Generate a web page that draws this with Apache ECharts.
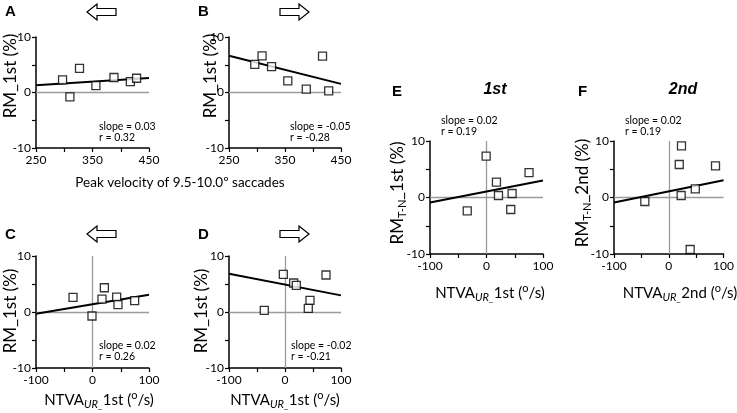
<!DOCTYPE html>
<html>
<head>
<meta charset="utf-8">
<script src="https://cdn.jsdelivr.net/npm/echarts@6/dist/echarts.min.js"></script>
<style>
  html, body { margin: 0; padding: 0; background: #fff; }
  #chart { width: 737px; height: 413px; }
</style>
</head>
<body>
<div id="chart"></div>
<script>
// panel A/B: peak velocity vs RM_1st
const aX = [297, 310, 327, 356, 388, 417, 428];
const aY = [2.27, -0.78, 4.36, 1.25, 2.7, 1.97, 2.57];
const aFit = [[250, 1.31], [450, 2.63]];

const bX = [296, 309, 326, 355, 388, 417, 428];
const bY = [5.07, 6.6, 4.66, 2.09, 0.6, 6.57, 0.3];
const bFit = [[250, 6.63], [450, 1.55]];

// panel C/D: NTVA 1st vs RM_1st
const cX = [-34.5, -0.9, 16.8, 21, 42.8, 45.1, 74.6];
const cY = [2.61, -0.71, 2.3, 4.33, 2.67, 1.31, 2.02];
const cFit = [[-100, -0.3], [100, 3.09]];

const dX = [-37, -3, 15.5, 20.2, 44.6, 41.6, 73.2];
const dY = [0.3, 6.73, 5.18, 4.77, 2.09, 0.66, 6.61];
const dFit = [[-100, 6.82], [100, 2.97]];

// panel E/F: NTVA vs RM T-N
const eX = [-34.1, -0.6, 17.6, 21.2, 45.3, 42.9, 75.3];
const eY = [-2.36, 7.32, 2.71, 0.35, 0.71, -2.12, 4.42];
const eFit = [[-100, -0.88], [100, 3.0]];

const fX = [-43.7, 23.2, 19.1, 22.6, 48.4, 85.3, 39.0];
const fY = [-0.71, 9.14, 5.84, 0.35, 1.53, 5.6, -9.2];
const fFit = [[-100, -0.88], [100, 3.07]];

const velTicks = [250, 350, 450];
const ntvaTicks = [-100, 0, 100];
const rmTicks = [-10, 0, 10];

const stats = [
  ['slope = 0.03', 'r = 0.32'],
  ['slope = -0.05', 'r = -0.28'],
  ['slope = 0.02', 'r = 0.26'],
  ['slope = -0.02', 'r = -0.21'],
  ['slope = 0.02', 'r = 0.19'],
  ['slope = 0.02', 'r = 0.19'],
];

const FONT = 'Lato, "Open Sans", sans-serif';

// stat: [left, centre of first line]
const panels = [
  { xs: aX, ys: aY, fit: aFit, min: 250, max: 450, ticks: velTicks, vline: false,
    grid: { left: 36, top: 37, width: 113, height: 111 }, stat: [99, 127] },
  { xs: bX, ys: bY, fit: bFit, min: 250, max: 450, ticks: velTicks, vline: false,
    grid: { left: 229, top: 37, width: 112, height: 111 }, stat: [290, 127] },
  { xs: cX, ys: cY, fit: cFit, min: -100, max: 100, ticks: ntvaTicks, vline: true,
    grid: { left: 36, top: 256, width: 113, height: 112 }, stat: [99, 346] },
  { xs: dX, ys: dY, fit: dFit, min: -100, max: 100, ticks: ntvaTicks, vline: true,
    grid: { left: 229, top: 256, width: 112, height: 112 }, stat: [291, 346] },
  { xs: eX, ys: eY, fit: eFit, min: -100, max: 100, ticks: ntvaTicks, vline: true,
    grid: { left: 430, top: 141, width: 113, height: 113 }, stat: [441, 121] },
  { xs: fX, ys: fY, fit: fFit, min: -100, max: 100, ticks: ntvaTicks, vline: true,
    grid: { left: 614, top: 141, width: 114, height: 113 }, stat: [625, 121] },
];

const axisLine = { show: true, onZero: false, lineStyle: { color: '#000', width: 1.5 } };
const axisTick = { show: true, inside: false, length: 4, lineStyle: { color: '#000', width: 1.2 } };

const grids = [], xAxes = [], yAxes = [], series = [], graphics = [];

panels.forEach((p, i) => {
  grids.push(p.grid);
  xAxes.push({
    type: 'value', gridIndex: i, min: p.min, max: p.max, interval: 50,
    axisLine, axisTick, splitLine: { show: false },
    axisLabel: {
      margin: 6, color: '#000', fontSize: 12, fontFamily: FONT,
      formatter: v => (p.ticks.includes(v) ? String(v) : '')
    }
  });
  yAxes.push({
    type: 'value', gridIndex: i, min: -10, max: 10, interval: 5,
    axisLine, axisTick, splitLine: { show: false },
    axisLabel: {
      margin: 5, color: '#000', fontSize: 12, fontFamily: FONT,
      formatter: v => (rmTicks.includes(v) ? String(v) : '')
    }
  });

  const zeroLines = [{ yAxis: 0 }];
  if (p.vline) zeroLines.push({ xAxis: 0 });

  series.push({
    type: 'line', xAxisIndex: i, yAxisIndex: i,
    data: p.fit, showSymbol: false, symbol: 'none', silent: true, z: 3,
    lineStyle: { color: '#000', width: 2 },
    markLine: {
      silent: true, symbol: 'none', label: { show: false }, z: 1,
      lineStyle: { color: '#9a9a9a', width: 1.3, type: 'solid' },
      data: zeroLines
    }
  });
  series.push({
    type: 'scatter', xAxisIndex: i, yAxisIndex: i, z: 4,
    data: p.xs.map((x, k) => [x, p.ys[k]]),
    symbol: 'rect', symbolSize: 8,
    itemStyle: { color: '#fff', borderColor: '#000', borderWidth: 1.3 }
  });

  graphics.push({
    type: 'text', x: p.stat[0], y: p.stat[1] - 5.5,
    style: { text: stats[i][0] + '\n' + stats[i][1], font: '10.5px ' + FONT, fill: '#000',
      lineHeight: 11, verticalAlign: 'top' }
  });
});

// panel letters and column titles
const letters = [['A', 5, 12], ['B', 198, 12], ['C', 5, 235], ['D', 198, 235], ['E', 392, 92], ['F', 578, 92]];
letters.forEach(([t, x, y]) => graphics.push({
  type: 'text', x, y,
  style: { text: t, font: 'bold 15px "Liberation Sans", Arial, sans-serif', fill: '#000', verticalAlign: 'middle' }
}));
[['1st', 495, 90], ['2nd', 683, 90]].forEach(([t, x, y]) => graphics.push({
  type: 'text', x, y,
  style: { text: t, font: 'italic bold 16px "Liberation Sans", Arial, sans-serif', fill: '#000',
    align: 'center', verticalAlign: 'middle' }
}));

// direction arrows
function arrow(cx, cy, dir) {
  // half length 14.5, head 10 long, head half-height 8, shaft half-height 3.5
  const pts = [[-14.5, 0], [-4.5, -8], [-4.5, -3.5], [14.5, -3.5], [14.5, 3.5], [-4.5, 3.5], [-4.5, 8]]
    .map(([x, y]) => [cx + dir * x, cy + y]);
  return { type: 'polygon', shape: { points: pts },
    style: { fill: '#fff', stroke: '#000', lineWidth: 1.2 } };
}
graphics.push(arrow(101.5, 12, 1), arrow(294.5, 12, -1), arrow(101.5, 234, 1), arrow(294.5, 234, -1));

// axis titles
const richText = {
  s: { fontSize: 11, fontStyle: 'italic', fontFamily: FONT, lineHeight: 10, verticalAlign: 'bottom' },
  t: { fontSize: 11, fontFamily: FONT, lineHeight: 10, verticalAlign: 'bottom' },
  p: { fontSize: 11, fontFamily: FONT, lineHeight: 10, verticalAlign: 'top' }
};
function title(text, x, y, rotate, size) {
  return {
    type: 'text', x, y, rotation: rotate ? Math.PI / 2 : 0,
    style: { text, font: size + 'px ' + FONT, fill: '#000', align: 'center', verticalAlign: 'middle',
      lineHeight: 20, rich: richText }
  };
}
graphics.push(
  title('RM_1st (%)', 11, 76, true, 17),
  title('RM_1st (%)', 211, 76, true, 17),
  title('RM_1st (%)', 11, 311, true, 17),
  title('RM_1st (%)', 202, 311, true, 17),
  title('RM{t|T-N}_1st (%)', 398, 193, true, 17),
  title('RM{t|T-N}_2nd (%)', 583, 193, true, 17),
  title('Peak velocity of 9.5-10.0º saccades', 180, 183, false, 13.5),
  title('NTVA{s|UR_}1st ({p|o}/s)', 99, 400, false, 15),
  title('NTVA{s|UR_}1st ({p|o}/s)', 285, 400, false, 15),
  title('NTVA{s|UR_}1st ({p|o}/s)', 490, 293, false, 15),
  title('NTVA{s|UR_}2nd ({p|o}/s)', 680, 293, false, 15)
);

const chart = echarts.init(document.getElementById('chart'));
chart.setOption({
  animation: false,
  grid: grids,
  xAxis: xAxes,
  yAxis: yAxes,
  series,
  graphic: graphics
});
</script>
</body>
</html>
